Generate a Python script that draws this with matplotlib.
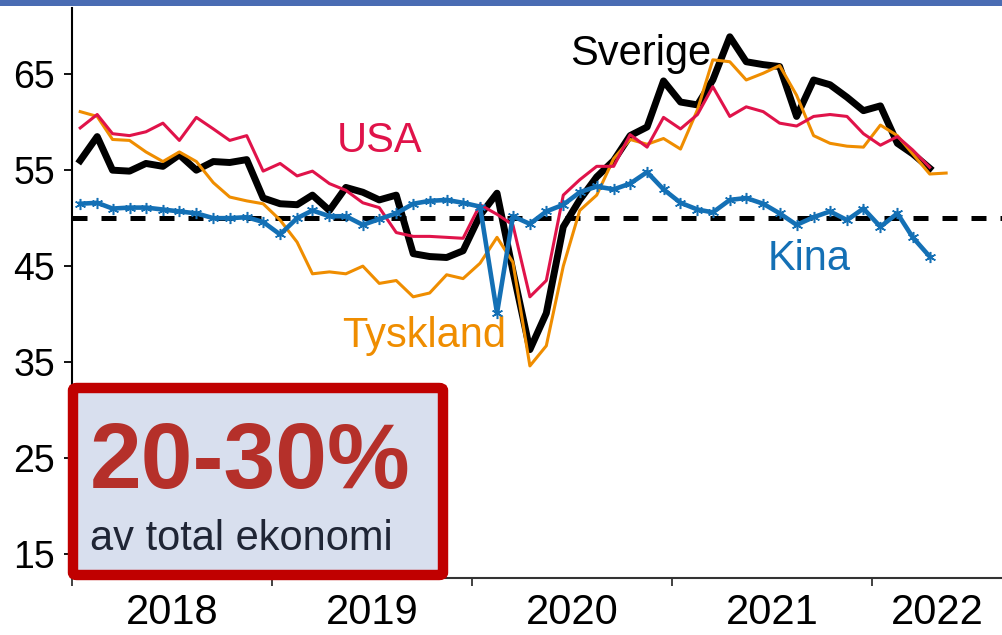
## Desc: PMI chart - Sverige, USA, Tyskland, Kina with a 20-30% box.

######Import Packages#######
import numpy as np
import pandas as pd
import matplotlib
matplotlib.use("Agg")
import matplotlib.pyplot as plt
import matplotlib.dates as mdates
from matplotlib.patches import FancyBboxPatch, Rectangle

######Data##########
start_month = "2018-01-01"
x_end = "2022-08-26"

sverige = [56.0, 58.5, 55.0, 54.9, 55.7, 55.4, 56.6, 55.0, 55.9, 55.8,
           56.1, 52.1, 51.5, 51.4, 52.4, 50.8, 53.2, 52.7, 51.9, 52.4,
           46.3, 46.0, 45.9, 46.6, 50.3, 52.6, 44.5, 36.3, 40.1, 49.1,
           51.9, 54.3, 56.0, 58.6, 59.5, 64.3, 62.1, 61.8, 64.4, 68.9,
           66.3, 66.0, 65.8, 60.6, 64.4, 63.9, 62.6, 61.2, 61.7, 57.8,
           56.7, 55.2]

usa = [59.4, 60.8, 58.8, 58.6, 59.0, 59.9, 58.1, 60.5, 59.3, 58.1,
       58.6, 54.9, 55.7, 54.4, 54.9, 53.6, 52.9, 51.6, 51.1, 48.5,
       48.1, 48.1, 48.0, 47.9, 51.4, 50.4, 49.3, 41.8, 43.5, 52.4,
       54.0, 55.4, 55.4, 58.7, 57.4, 60.5, 59.3, 60.8, 63.7, 60.6,
       61.6, 61.1, 59.9, 59.6, 60.6, 60.8, 60.6, 58.8, 57.6, 58.5,
       57.1, 55.3]

tyskland = [61.1, 60.6, 58.2, 58.1, 56.9, 55.9, 56.9, 55.9, 53.7, 52.2,
            51.8, 51.5, 49.8, 47.5, 44.2, 44.4, 44.2, 45.0, 43.2, 43.5,
            41.8, 42.2, 44.1, 43.7, 45.3, 48.0, 45.4, 34.6, 36.7, 45.0,
            50.8, 52.4, 56.2, 58.2, 57.7, 58.3, 57.2, 61.3, 66.5, 66.3,
            64.4, 65.1, 65.9, 62.8, 58.6, 57.8, 57.5, 57.4, 59.7, 58.6,
            56.7, 54.6, 54.7]

kina = [51.5, 51.6, 51.0, 51.1, 51.1, 50.9, 50.7, 50.5, 50.0, 50.0,
        50.1, 49.6, 48.3, 50.0, 50.8, 50.2, 50.2, 49.3, 49.9, 50.5,
        51.5, 51.8, 51.9, 51.6, 51.2, 40.1, 50.2, 49.4, 50.7, 51.4,
        52.7, 53.3, 53.0, 53.6, 54.8, 53.0, 51.6, 50.9, 50.6, 51.9,
        52.1, 51.5, 50.5, 49.3, 50.1, 50.7, 49.8, 51.0, 49.1, 50.5,
        48.0, 46.0]

threshold = 50
years = [2018, 2019, 2020, 2021, 2022]
yticks = [15, 25, 35, 45, 55, 65]

box_big = "20-30%"
box_small = "av total ekonomi"

#######Colours############
c_sve = "black"
c_usa = "#e0134a"
c_tys = "#ef8d00"
c_kina = "#1470b5"

####### Dates (mid month) #######
def mid_months(n):
    """monthly points placed in the middle of each month"""
    return pd.date_range(start_month, periods=n, freq="MS") + pd.Timedelta(days=15)

plt.rcParams["font.family"] = ["Liberation Sans", "DejaVu Sans"]

fig = plt.figure(figsize=(10.02, 6.35), dpi=100)
ax = fig.add_axes([72 / 1002, 57 / 635, 930 / 1002, 570 / 635])

ax.axhline(threshold, color="black", lw=3.6, ls=(0, (3, 2.8)), zorder=1)
ax.plot(mid_months(len(sverige)), sverige, color=c_sve, lw=5, zorder=2)
ax.plot(mid_months(len(tyskland)), tyskland, color=c_tys, lw=2.2, zorder=3)
ax.plot(mid_months(len(usa)), usa, color=c_usa, lw=2.2, zorder=4)
ax.plot(mid_months(len(kina)), kina, color=c_kina, lw=3.3, zorder=5,
        marker=(6, 2, 0), ms=8, mew=1.1, mec=c_kina)

## axes limits
x0 = pd.Timestamp(start_month)
x1 = pd.Timestamp(x_end)
ax.set_xlim(x0, x1)
ax.set_ylim(12.5, 71.9)

## year ticks on the boundaries, labels in the middle of each year
bounds = [pd.Timestamp(f"{y}-01-01") for y in years]
ax.set_xticks(bounds)
ax.set_xticklabels([])
mids = []
for y in years:
    a = pd.Timestamp(f"{y}-01-01")
    b = min(pd.Timestamp(f"{y + 1}-01-01"), x1)
    mids.append(mdates.date2num(a) + (mdates.date2num(b) - mdates.date2num(a)) / 2)
ax.set_xticks(mids, minor=True)
ax.set_xticklabels([str(y) for y in years], minor=True)

ax.set_yticks(yticks)
ax.tick_params(axis="y", length=6, width=1.3, labelsize=27, pad=6)
ax.tick_params(axis="x", which="major", length=6, width=1.3, color="#333333")
ax.tick_params(axis="x", which="minor", length=0, labelsize=30, pad=11)

for s in ["top", "right"]:
    ax.spines[s].set_visible(False)
ax.spines["left"].set_linewidth(1.5)
ax.spines["bottom"].set_linewidth(1.5)
ax.spines["bottom"].set_color("#333333")

## series labels
ax.text(0.5355, 0.90, "Sverige", transform=ax.transAxes, fontsize=30, color=c_sve, va="baseline")
ax.text(0.285, 0.747, "USA", transform=ax.transAxes, fontsize=30, color=c_usa, va="baseline")
ax.text(0.290, 0.405, "Tyskland", transform=ax.transAxes, fontsize=30, color=c_tys, va="baseline")
ax.text(0.748, 0.540, "Kina", transform=ax.transAxes, fontsize=30, color=c_kina, va="baseline")

## blue strip at the top (remains of a cropped title bar)
fig.patches.append(Rectangle((0, 1 - 6 / 635), 1, 6 / 635, transform=fig.transFigure,
                             facecolor="#4a6cb3", edgecolor="none"))

## the red box
box = FancyBboxPatch((73 / 1002, 60 / 635), 370 / 1002, 187 / 635,
                     boxstyle="round,pad=0,rounding_size=0.004",
                     transform=fig.transFigure, facecolor="#d8dfee",
                     edgecolor="#c00000", lw=7.5, zorder=10)
fig.patches.append(box)
fig.text(90 / 1002, 1 - 488 / 635, box_big, fontsize=67, fontweight="bold",
         color="#b5302a", va="baseline", ha="left", zorder=11)
fig.text(90 / 1002, 1 - 550 / 635, box_small, fontsize=30,
         color="#1f2535", va="baseline", ha="left", zorder=11)

fig.savefig("out.png", dpi=100)
